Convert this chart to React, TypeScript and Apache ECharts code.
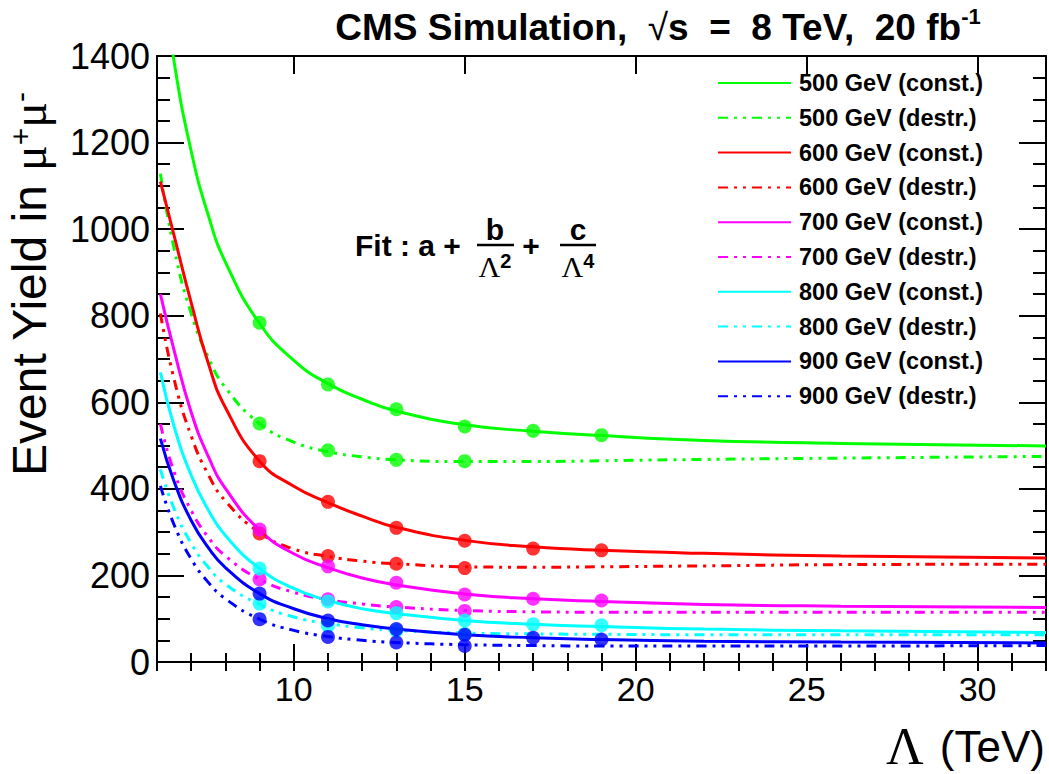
import React, { useEffect, useRef } from "react";
import * as echarts from "echarts";

const curveLambda = [6.1, 6.5, 7, 7.5, 8, 9, 10, 11, 12, 13, 15, 17, 19, 22, 26, 32];

// fitted curves (event yield)
const fit500Const = [1620, 1387, 1180, 1032, 924, 782, 697, 643, 607, 580, 548, 533, 523, 512, 505, 499];
const fit500Destr = [1128, 955, 805, 704, 634, 551, 508, 486, 474, 467, 463, 463, 465, 468, 471, 475];
const fit600Const = [1110, 985, 830, 690, 588, 464, 406, 368, 337, 311, 281, 266, 258, 251, 245, 240];
const fit600Destr = [805, 653, 522, 433, 372, 299, 261, 244, 233, 227, 220, 219, 220, 222, 225, 226];
const fit700Const = [850, 720, 577, 475, 401, 305, 250, 218, 194, 178, 157, 146, 140, 133, 129, 126];
const fit700Destr = [550, 439, 350, 288, 245, 191, 161, 144, 134, 127, 119, 116, 115, 115, 115, 115];
const fit800Const = [669, 544, 431, 351, 292, 216, 170, 142, 123, 112, 96, 87, 82, 76, 72, 68];
const fit800Destr = [445, 354, 274, 219, 180, 133, 104, 89, 79, 73, 67, 65, 64, 63, 63, 63];
const fit900Const = [516, 417, 327, 264, 218, 158, 123, 100, 86, 76, 63, 56, 52, 48, 46, 44];
const fit900Destr = [407, 317, 238, 184, 146, 99, 73, 59, 50, 45, 40, 38, 37, 37, 37, 38];

// simulated points
const pointLambdaConst = [9, 11, 13, 15, 17, 19];
const pointLambdaDestr = [9, 11, 13, 15];
const pts500Const = [784, 641, 584, 544, 534, 524];
const pts500Destr = [551, 489, 467, 464];
const pts600Const = [464, 370, 310, 280, 262, 258];
const pts600Destr = [297, 245, 227, 217];
const pts700Const = [306, 221, 183, 156, 146, 142];
const pts700Destr = [191, 145, 127, 118];
const pts800Const = [216, 140, 113, 96, 87, 85];
const pts800Destr = [135, 84, 72, 65];
const pts900Const = [158, 96, 76, 63, 56, 52];
const pts900Destr = [99, 58, 45, 37];

const seriesNames = [
  "500 GeV (const.)",
  "500 GeV (destr.)",
  "600 GeV (const.)",
  "600 GeV (destr.)",
  "700 GeV (const.)",
  "700 GeV (destr.)",
  "800 GeV (const.)",
  "800 GeV (destr.)",
  "900 GeV (const.)",
  "900 GeV (destr.)",
];

const xMajorTicks = [10, 15, 20, 25, 30];
const xMin = 6;
const xMax = 32;
const yMin = 0;
const yMax = 1400;
const yStep = 200;

const GREEN = "#00ff00";
const RED = "#ff0000";
const MAGENTA = "#ff00ff";
const CYAN = "#00ffff";
const BLUE = "#0000ff";
const SANS = "'Liberation Sans', Arial, Helvetica, sans-serif";
const SERIF = "'Liberation Serif', 'DejaVu Serif', 'Times New Roman', serif";
const DASH = [10, 6, 3, 6, 3, 6];

const curves = [
  { name: seriesNames[0], color: GREEN, dashed: false, fit: fit500Const, px: pointLambdaConst, py: pts500Const },
  { name: seriesNames[1], color: GREEN, dashed: true, fit: fit500Destr, px: pointLambdaDestr, py: pts500Destr },
  { name: seriesNames[2], color: RED, dashed: false, fit: fit600Const, px: pointLambdaConst, py: pts600Const },
  { name: seriesNames[3], color: RED, dashed: true, fit: fit600Destr, px: pointLambdaDestr, py: pts600Destr },
  { name: seriesNames[4], color: MAGENTA, dashed: false, fit: fit700Const, px: pointLambdaConst, py: pts700Const },
  { name: seriesNames[5], color: MAGENTA, dashed: true, fit: fit700Destr, px: pointLambdaDestr, py: pts700Destr },
  { name: seriesNames[6], color: CYAN, dashed: false, fit: fit800Const, px: pointLambdaConst, py: pts800Const },
  { name: seriesNames[7], color: CYAN, dashed: true, fit: fit800Destr, px: pointLambdaDestr, py: pts800Destr },
  { name: seriesNames[8], color: BLUE, dashed: false, fit: fit900Const, px: pointLambdaConst, py: pts900Const },
  { name: seriesNames[9], color: BLUE, dashed: true, fit: fit900Destr, px: pointLambdaDestr, py: pts900Destr },
];

const AXIS_COLOR = "#000";

function buildOption(): any {
  const lineSeries = curves.map((c) => ({
    type: "line",
    name: c.name,
    xAxisIndex: 0,
    yAxisIndex: 0,
    data: curveLambda.map((x, i) => [x, c.fit[i]]),
    symbol: "none",
    showSymbol: false,
    smooth: 0.5,
    clip: true,
    silent: true,
    z: 3,
    lineStyle: { color: c.color, width: 3, type: c.dashed ? DASH : "solid" },
    itemStyle: { color: c.color },
  }));
  const pointSeries = curves.map((c) => ({
    type: "scatter",
    name: c.name + " MC",
    xAxisIndex: 0,
    yAxisIndex: 0,
    data: c.px.map((x, i) => [x, c.py[i]]),
    symbol: "circle",
    symbolSize: 14,
    silent: true,
    z: 4,
    itemStyle: { color: c.color },
  }));

  const xCommon = {
    type: "value",
    min: xMin,
    max: xMax,
    splitLine: { show: false },
    gridIndex: 0,
  };
  const yCommon = {
    type: "value",
    min: yMin,
    max: yMax,
    interval: yStep,
    splitLine: { show: false },
    minorSplitLine: { show: false },
    axisLine: { show: true, onZero: false, lineStyle: { color: AXIS_COLOR, width: 2 } },
    axisTick: { show: true, inside: true, length: 27, lineStyle: { color: AXIS_COLOR, width: 2 } },
    minorTick: { show: true, splitNumber: 4, length: 13, lineStyle: { color: AXIS_COLOR, width: 2 } },
  };

  return {
    animation: false,
    backgroundColor: "#ffffff",
    grid: { left: 157, top: 56, width: 889, height: 606, containLabel: false },
    xAxis: [
      {
        ...xCommon,
        position: "bottom",
        axisLine: { show: true, onZero: false, lineStyle: { color: AXIS_COLOR, width: 2 } },
        axisTick: { show: true, inside: true, length: 18, customValues: xMajorTicks, lineStyle: { color: AXIS_COLOR, width: 2 } },
        axisLabel: { show: true, customValues: xMajorTicks, fontSize: 34, color: "#000", fontFamily: SANS, margin: 10 },
      },
      {
        ...xCommon,
        position: "bottom",
        interval: 1,
        axisLine: { show: false },
        axisTick: { show: true, inside: true, length: 9, lineStyle: { color: AXIS_COLOR, width: 2 } },
        axisLabel: { show: false },
      },
      {
        ...xCommon,
        position: "top",
        axisLine: { show: true, onZero: false, lineStyle: { color: AXIS_COLOR, width: 2 } },
        axisTick: { show: true, inside: true, length: 18, customValues: xMajorTicks, lineStyle: { color: AXIS_COLOR, width: 2 } },
        axisLabel: { show: false },
      },
      {
        ...xCommon,
        position: "top",
        interval: 1,
        axisLine: { show: false },
        axisTick: { show: true, inside: true, length: 9, lineStyle: { color: AXIS_COLOR, width: 2 } },
        axisLabel: { show: false },
      },
    ],
    yAxis: [
      {
        ...yCommon,
        position: "left",
        axisLabel: {
          show: true,
          fontSize: 36,
          color: "#000",
          fontFamily: SANS,
          margin: 7,
          formatter: (v: number) => String(v),
        },
      },
      {
        ...yCommon,
        position: "right",
        axisLabel: { show: false },
      },
    ],
    legend: {
      show: true,
      orient: "vertical",
      left: 712,
      top: 66,
      data: seriesNames,
      itemWidth: 73,
      itemHeight: 14,
      itemGap: 10.8,
      selectedMode: false,
      itemStyle: { opacity: 0, borderWidth: 0 },
      lineStyle: { width: 2 },
      textStyle: {
        fontSize: 23.5,
        fontWeight: "bold",
        fontFamily: SANS,
        color: "#000",
        lineHeight: 24,
        padding: [0, 0, 0, 3],
      },
    },
    graphic: [
      {
        type: "text",
        x: 658,
        y: 27,
        style: {
          text: "{b|CMS Simulation,  }{r|√}{b|s  =  8 TeV,  20 fb}{s|-1}",
          align: "center",
          verticalAlign: "middle",
          fill: "#000",
          rich: {
            b: { fontSize: 37, fontWeight: "bold", fontFamily: SANS, fill: "#000", lineHeight: 44 },
            r: { fontSize: 37, fontFamily: SANS, fill: "#000", lineHeight: 44 },
            s: { fontSize: 22, fontWeight: "bold", fontFamily: SANS, fill: "#000", verticalAlign: "top", lineHeight: 22 },
          },
        },
      },
      {
        type: "text",
        x: 29,
        y: 476,
        rotation: Math.PI / 2,
        style: {
          text: "{t|Event Yield in }{m|μ}{s|+}{m|μ}{s|-}",
          align: "left",
          verticalAlign: "middle",
          fill: "#000",
          rich: {
            t: { fontSize: 48, fontFamily: SANS, fill: "#000", lineHeight: 48 },
            m: { fontSize: 48, fontFamily: SERIF, fill: "#000", lineHeight: 48 },
            s: { fontSize: 30, fontFamily: SANS, fill: "#000", verticalAlign: "top", lineHeight: 28 },
          },
        },
      },
      {
        type: "text",
        x: 1045,
        y: 746,
        style: {
          text: "{L|Λ}{t| (TeV)}",
          align: "right",
          verticalAlign: "middle",
          fill: "#000",
          rich: {
            L: { fontSize: 52, fontFamily: SERIF, fill: "#000", padding: [0, 4, 0, 0] },
            t: { fontSize: 44, fontFamily: SANS, fill: "#000" },
          },
        },
      },
      {
        type: "text",
        x: 355,
        y: 245,
        style: { text: "Fit : a +", fontSize: 30, fontWeight: "bold", fontFamily: SANS, fill: "#000", verticalAlign: "middle", align: "left" },
      },
      {
        type: "text",
        x: 495,
        y: 229,
        style: { text: "b", fontSize: 30, fontWeight: "bold", fontFamily: SANS, fill: "#000", verticalAlign: "middle", align: "center" },
      },
      { type: "line", shape: { x1: 477, y1: 245, x2: 514, y2: 245 }, style: { stroke: "#000", lineWidth: 2.5 } },
      {
        type: "text",
        x: 495,
        y: 266,
        style: {
          text: "{L|Λ}{s|2}",
          align: "center",
          verticalAlign: "middle",
          rich: {
            L: { fontSize: 30, fontFamily: SERIF, fill: "#000", lineHeight: 30 },
            s: { fontSize: 20, fontWeight: "bold", fontFamily: SANS, fill: "#000", verticalAlign: "top", lineHeight: 18 },
          },
        },
      },
      {
        type: "text",
        x: 531,
        y: 245,
        style: { text: "+", fontSize: 30, fontWeight: "bold", fontFamily: SANS, fill: "#000", verticalAlign: "middle", align: "center" },
      },
      {
        type: "text",
        x: 578,
        y: 229,
        style: { text: "c", fontSize: 30, fontWeight: "bold", fontFamily: SANS, fill: "#000", verticalAlign: "middle", align: "center" },
      },
      { type: "line", shape: { x1: 560, y1: 245, x2: 596, y2: 245 }, style: { stroke: "#000", lineWidth: 2.5 } },
      {
        type: "text",
        x: 578,
        y: 266,
        style: {
          text: "{L|Λ}{s|4}",
          align: "center",
          verticalAlign: "middle",
          rich: {
            L: { fontSize: 30, fontFamily: SERIF, fill: "#000", lineHeight: 30 },
            s: { fontSize: 20, fontWeight: "bold", fontFamily: SANS, fill: "#000", verticalAlign: "top", lineHeight: 18 },
          },
        },
      },
    ],
    series: [...lineSeries, ...pointSeries],
  };
}

export default function App() {
  const ref = useRef<HTMLDivElement>(null);
  useEffect(() => {
    if (!ref.current) return;
    const chart = echarts.init(ref.current, null, { renderer: "svg" });
    chart.setOption(buildOption());
    return () => {
      chart.dispose();
    };
  }, []);
  return (
    <div
      ref={ref}
      style={{ position: "fixed", left: 0, top: 0, width: 1049, height: 774, background: "#ffffff" }}
    />
  );
}
